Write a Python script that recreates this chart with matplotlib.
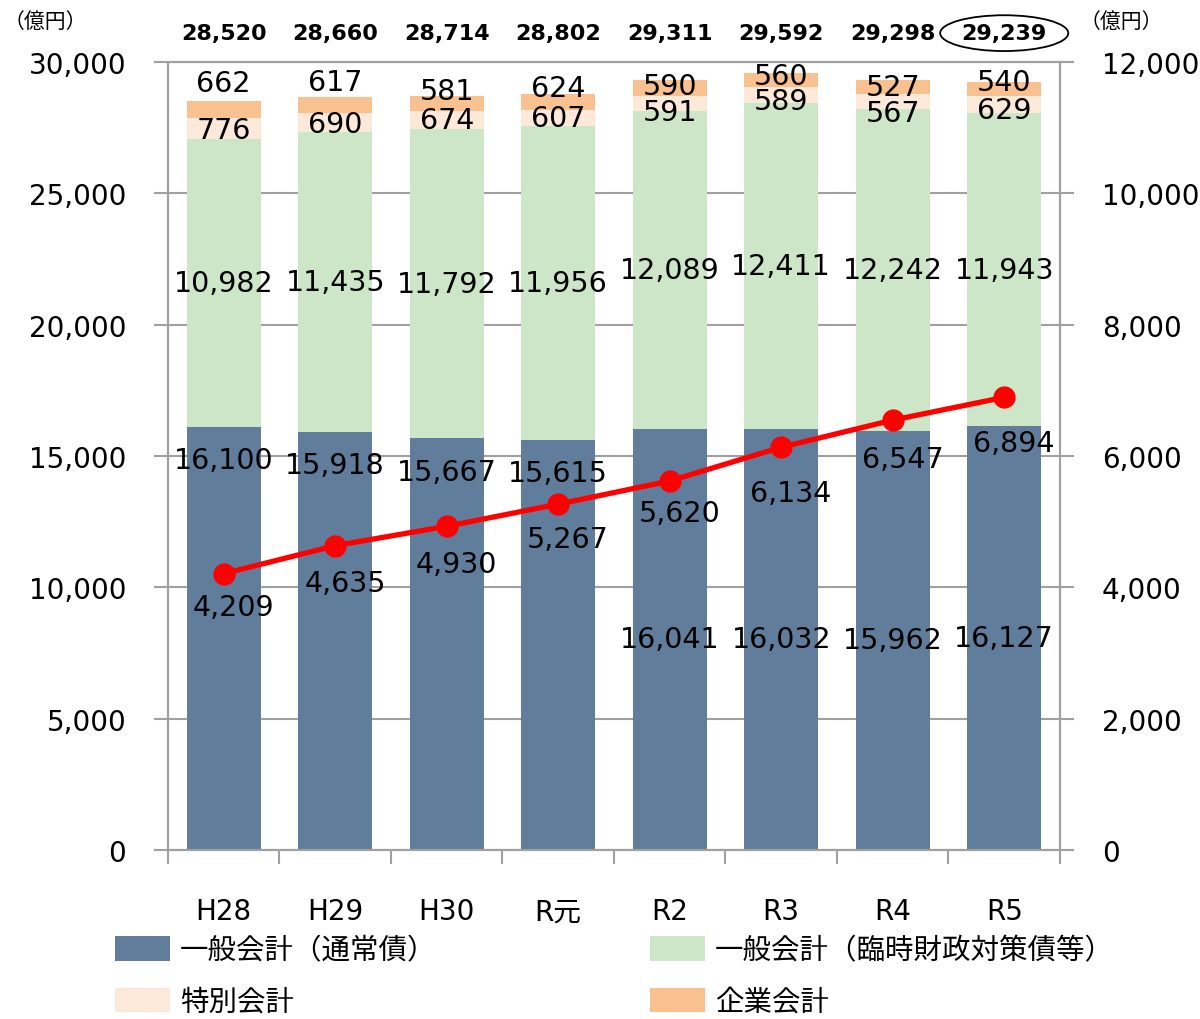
import matplotlib
matplotlib.use("Agg")
import matplotlib.pyplot as plt
import numpy as np

plt.rcParams['font.family'] = ['DejaVu Sans', 'Noto Sans CJK JP']

# ------------------------------
# DATA
# ------------------------------
years = ["H28", "H29", "H30", "R元", "R2", "R3", "R4", "R5"]
general_normal = [16100, 15918, 15667, 15615, 16041, 16032, 15962, 16127]
general_special = [10982, 11435, 11792, 11956, 12089, 12411, 12242, 11943]
special_account = [776, 690, 674, 607, 591, 589, 567, 629]
enterprise = [662, 617, 581, 624, 590, 560, 527, 540]
totals = [28520, 28660, 28714, 28802, 29311, 29592, 29298, 29239]
line_values = [4209, 4635, 4930, 5267, 5620, 6134, 6547, 6894]

series_names = ["一般会計（通常債）", "一般会計（臨時財政対策債等）", "特別会計", "企業会計"]
colors = ["#607D9B", "#CEE6C8", "#FDE9DA", "#F9C090"]

# label nudges in points (hand placement in the original)
ent_dy = [19, 17, 9, 10, 1, 3, 0, 5]
spec_dy = [-1, -1, 0, 0, -6, -4, -8, -4]
line_dy = [-24, -27, -27, -25, -23, -33, -28, -33]

GRAY = "#A0A0A0"
FS = 20.5


def fmt(v):
    return f"{v:,}"


fig = plt.figure(figsize=(12, 10.2), dpi=100)
ax = fig.add_axes([0.14, 0.1657, 0.7433, 0.7725])
ax2 = ax.twinx()

x = np.arange(len(years))
width = 0.66

stack = [general_normal, general_special, special_account, enterprise]
bottoms = np.zeros(len(years))
bars = []
for vals, col, name in zip(stack, colors, series_names):
    b = ax.bar(x, vals, width, bottom=bottoms, color=col, label=name, zorder=2)
    bars.append(b)
    bottoms = bottoms + np.array(vals)

ax.set_xlim(-0.5, len(years) - 0.5)
ax.set_ylim(0, 30000)
ax.set_yticks(np.arange(0, 30001, 5000))
ax.set_yticklabels([fmt(v) for v in range(0, 30001, 5000)], fontsize=20)
ax.yaxis.grid(True, color=GRAY, linewidth=1.5, zorder=0)
ax.set_axisbelow(True)

ax.set_xticks(x)
ax.set_xticklabels(years, fontsize=20)
ax.set_xticks(np.arange(-0.5, len(years)), minor=True)
ax.tick_params(axis='x', which='major', length=0, pad=34)
ax.tick_params(axis='x', which='minor', length=10, width=1.5, color=GRAY, direction='out')
ax.tick_params(axis='y', length=10, width=1.5, color=GRAY, direction='out', pad=20)

ax2.set_ylim(0, 12000)
ax2.set_yticks(np.arange(0, 12001, 2000))
ax2.set_yticklabels([fmt(v) for v in range(0, 12001, 2000)], fontsize=20)
ax2.tick_params(axis='y', length=10, width=1.5, color=GRAY, direction='out', pad=20)

for a in (ax, ax2):
    for s in a.spines.values():
        s.set_color(GRAY)
        s.set_linewidth(1.5)

# line series
ax2.plot(x, line_values, color="#FF0000", linewidth=3.8, marker='o',
         markersize=15, zorder=5)

# segment labels
for i in range(len(years)):
    # general normal
    if i < 4:
        ax.annotate(fmt(general_normal[i]), (x[i], general_normal[i]),
                    xytext=(0, -24), textcoords='offset points',
                    ha='center', va='center', fontsize=FS, zorder=6)
    else:
        ax.text(x[i], general_normal[i] / 2, fmt(general_normal[i]),
                ha='center', va='center', fontsize=FS, zorder=6)
    # general special
    y_mid = general_normal[i] + general_special[i] / 2
    ax.text(x[i], y_mid, fmt(general_special[i]), ha='center', va='center',
            fontsize=FS, zorder=6)
    # special account
    base = general_normal[i] + general_special[i]
    ax.annotate(fmt(special_account[i]), (x[i], base + special_account[i] / 2),
                xytext=(0, spec_dy[i]), textcoords='offset points',
                ha='center', va='center', fontsize=FS, zorder=6)
    # enterprise
    base2 = base + special_account[i]
    ax.annotate(fmt(enterprise[i]), (x[i], base2 + enterprise[i] / 2),
                xytext=(0, ent_dy[i]), textcoords='offset points',
                ha='center', va='center', fontsize=FS, zorder=6)
    # line values
    ax2.annotate(fmt(line_values[i]), (x[i], line_values[i]),
                 xytext=(7, line_dy[i]), textcoords='offset points',
                 ha='center', va='center', fontsize=FS, zorder=6)
    # totals
    kw = {}
    if i == len(years) - 1:
        kw['bbox'] = dict(boxstyle='ellipse,pad=0.12', fc='none', ec='black', lw=1.3)
    ax.text(x[i], 31100, fmt(totals[i]), ha='center', va='center',
            fontsize=16, fontweight='bold', clip_on=False, **kw)

fig.text(4 / 1200, 1 - 22 / 1020, "（億円）", fontsize=15, ha='left', va='center')
fig.text(1080 / 1200, 1 - 22 / 1020, "（億円）", fontsize=15, ha='left', va='center')

order = [0, 2, 1, 3]
fig.legend([bars[k] for k in order], [series_names[k] for k in order],
           ncol=2, loc='upper left', bbox_to_anchor=(0.096, 0.081),
           frameon=False, fontsize=FS, handlelength=1.93, handleheight=0.95,
           handletextpad=0.35, labelspacing=0.82, columnspacing=7.5,
           borderaxespad=0, borderpad=0)

fig.savefig("out.png", dpi=100)
